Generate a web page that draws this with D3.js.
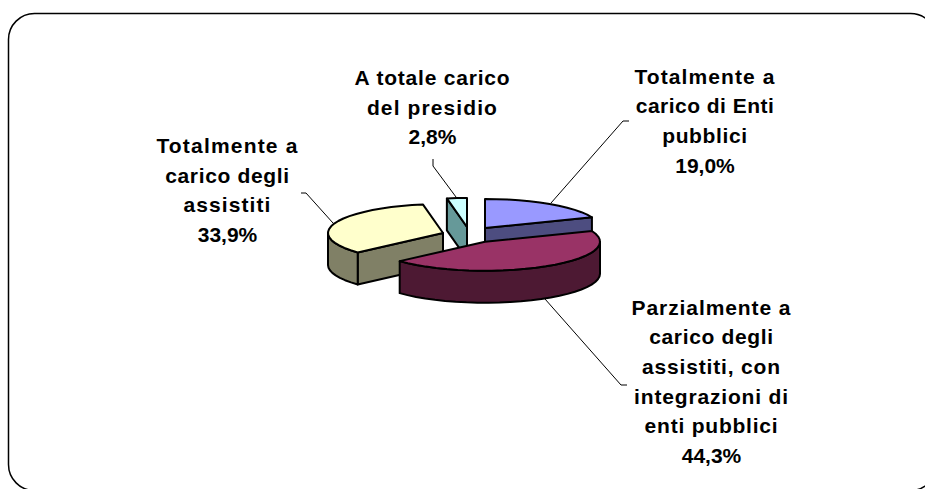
<!DOCTYPE html>
<html><head><meta charset="utf-8">
<style>html,body{margin:0;padding:0;background:#fff;overflow:hidden}svg{display:block}text{font-family:"Liberation Sans",Arial,sans-serif;font-weight:bold;font-size:21px;fill:#000;text-anchor:middle}</style>
<script src="https://cdn.jsdelivr.net/npm/d3@7/dist/d3.min.js"></script>
</head><body><script>
const categories=["Totalmente a carico di Enti pubblici","Parzialmente a carico degli assistiti, con integrazioni di enti pubblici","Totalmente a carico degli assistiti","A totale carico del presidio"];
const values=[19.0,44.3,33.9,2.8];
const labelLines=[["Totalmente a","carico di Enti","pubblici"],["Parzialmente a","carico degli","assistiti, con","integrazioni di","enti pubblici"],["Totalmente a","carico degli","assistiti"],["A totale carico","del presidio"]];
const valueLabels=["19,0%","44,3%","33,9%","2,8%"];
const topColors=["#9999FF","#993366","#FFFFCC","#CCFFFF"];
const wallColors=["#4D4D80","#4D1933","#808066","#669999"];

const W=925,H=489,rx=115,ry=29,depth=32;
const sliceCentres=[[485,228],[485,241.7],[443,233],[467,227]];
const labelAnchors=[[705,83.5],[711.5,314.5],[227.5,153],[432.5,85]];
const lineWidths=[[140,138,85],[159,124,138,154,133],[141,124,87],[155,130]];
const leaders=[[[629,121],[623,121],[551,203]],[[545,299],[621,385],[627,385]],[[301,193],[306,193],[333,223]],[[433,159],[433,166],[456,197]]];
const drawOrder=[3,0,2,1];

const pie=d3.pie().sort(null).value(d=>d);
const arcs=pie(values);
const ex=d3.scaleLinear().domain([-1,1]).range([-rx,rx]);
const ey=d3.scaleLinear().domain([-1,1]).range([-ry,ry]);
const pt=(i,a,dz=0)=>[sliceCentres[i][0]+ex(Math.sin(a)),sliceCentres[i][1]+ey(-Math.cos(a))+dz];
const rimPts=(i,a0,a1,dz=0)=>{const n=Math.max(2,Math.ceil((a1-a0)/0.1));return d3.range(n+1).map(k=>pt(i,a0+(a1-a0)*k/n,dz));};
const line=d3.line();
const svg=d3.select("body").append("svg").attr("width",W).attr("height",H);
svg.append("rect").attr("x",8.5).attr("y",13.5).attr("width",928).attr("height",477).attr("rx",26).attr("fill","#fff").attr("stroke","#000").attr("stroke-width",1.5);
const g=svg.append("g").attr("stroke","#000").attr("stroke-width",2).attr("stroke-linejoin","round");
drawOrder.forEach(i=>{
  const a=arcs[i],c=sliceCentres[i],c2=[c[0],c[1]+depth];
  const walls=[];
  const s0=pt(i,a.startAngle),e0=pt(i,a.endAngle);
  if(i===0) walls.push([c,e0,[e0[0],e0[1]+depth],c2]);
  if(i===2||i===3) walls.push([c,s0,[s0[0],s0[1]+depth],c2]);
  const lo=Math.max(a.startAngle,Math.PI/2),hi=Math.min(a.endAngle,3*Math.PI/2);
  if(hi>lo){const t=rimPts(i,lo,hi),b=rimPts(i,lo,hi,depth).reverse();walls.push(t.concat(b));}
  walls.forEach(w=>g.append("path").attr("d",line(w)+"Z").attr("fill",wallColors[i]));
  g.append("path").attr("d",line([c].concat(rimPts(i,a.startAngle,a.endAngle)))+"Z").attr("fill",topColors[i]);
});
svg.append("g").selectAll("path").data(leaders).join("path").attr("d",d=>line(d)).attr("fill","none").attr("stroke","#000").attr("stroke-width",1);
const lh=29.7;
categories.forEach((cat,i)=>{
  const t=svg.append("text").attr("aria-label",cat);
  labelLines[i].forEach((s,k)=>{
    const sp=t.append("tspan").attr("x",labelAnchors[i][0]).attr("y",labelAnchors[i][1]+k*lh).text(s);
    const natural=sp.node().getComputedTextLength();
    sp.attr("letter-spacing",Math.max(0,(lineWidths[i][k]-natural)/(s.length-1)));
  });
  t.append("tspan").attr("x",labelAnchors[i][0]).attr("y",labelAnchors[i][1]+labelLines[i].length*lh).text(valueLabels[i]);
});
</script></body></html>
